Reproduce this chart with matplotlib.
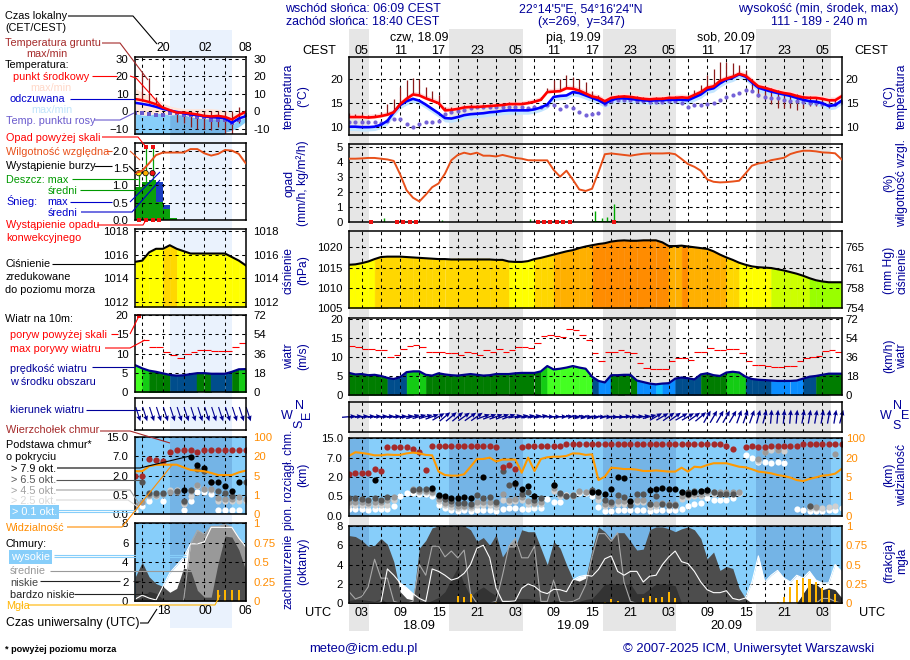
import numpy as np
import matplotlib
matplotlib.use("Agg")
import matplotlib.pyplot as plt

N = float('nan')
plt.rcParams['font.family'] = ['Liberation Sans', 'DejaVu Sans']

# ---------- main panel data: hourly from 01 UTC 18.09 (78 values) ----------
temp_mid = [12.0,12.0,12.0,11.9,12.0,12.2,12.5,13.0,14.7,15.8,
            16.7,16.5,15.9,15.4,14.9,13.4,13.5,13.7,14.0,14.1,
            14.1,14.2,14.3,14.4,14.5,14.7,14.7,14.7,14.9,15.2,
            15.6,17.2,17.3,17.4,18.0,17.9,17.5,16.9,16.3,16.0,
            15.3,16.0,16.2,16.3,16.2,16.0,15.8,15.7,15.8,15.8,
            16.0,16.0,16.1,16.0,16.6,17.2,18.1,18.4,19.5,20.0,
            20.4,21.0,20.6,19.5,18.4,18.1,17.7,17.3,17.0,16.8,
            16.4,16.1,16.0,16.0,15.8,15.5,15.5,16.3]
temp_feel = [10.0,10.0,9.9,9.9,10.0,10.4,11.2,13.0,14.5,15.3,
             15.8,15.4,14.6,13.7,12.8,11.8,11.7,12.0,12.4,12.6,
             12.7,12.8,13.0,13.1,13.3,13.4,13.4,13.4,13.4,13.6,
             14.0,14.6,16.2,16.4,16.5,17.2,17.0,16.5,16.0,15.5,
             14.8,15.5,15.9,15.9,15.8,15.6,15.5,15.4,15.5,15.5,
             15.6,15.6,15.6,15.5,16.1,16.7,17.7,18.0,19.0,19.8,
             20.2,20.9,20.4,19.2,18.1,17.7,17.3,17.0,16.7,16.4,
             16.0,15.6,15.3,15.2,14.9,14.3,14.5,15.4]
dew_point = [11.0,11.0,11.0,10.9,10.9,10.8,11.1,11.5,11.5,10.6,
             10.0,10.5,10.9,10.9,11.1,12.7,13.0,13.2,13.5,13.8,
             14.0,14.0,14.0,14.0,14.2,14.2,14.1,14.0,13.8,14.0,
             14.2,14.5,14.6,13.6,14.4,13.9,13.1,12.5,12.6,12.9,
             14.8,15.3,15.5,15.6,15.5,15.4,15.3,15.2,15.1,15.2,
             15.3,15.3,14.9,14.0,14.5,14.6,14.7,14.9,15.6,16.1,
             16.5,17.0,17.6,17.5,16.5,16.2,16.0,15.9,15.6,15.4,
             15.3,15.2,15.0,14.9,14.7,14.5,14.8,15.2]
ground_max = [12.8,12.7,12.6,12.5,12.7,13.0,14.7,15.8,18.2,19.8,
              20.2,20.0,18.2,17.4,16.5,14.0,14.0,14.0,14.5,14.7,
              14.6,14.7,14.8,14.9,15.0,15.1,15.1,15.2,15.3,15.6,
              16.2,18.0,19.7,19.9,20.7,20.3,20.0,19.3,17.5,16.5,
              15.5,16.2,16.5,16.6,16.4,16.3,16.1,16.0,16.1,16.1,
              16.3,16.3,16.4,16.3,17.6,18.7,20.7,22.1,23.4,23.4,
              23.2,22.8,21.7,19.8,18.6,18.3,18.0,17.6,17.3,17.0,
              16.7,16.4,16.3,16.2,16.0,15.8,15.7,16.5]
ground_min_late = [17.4,16.2,15.8,14.7,13.8,13.8,13.8,13.4,13.8,14.4,14.4,14.4,13.8,14.3,15.0]
humidity = [92,92,92.2,92.5,92.5,92,91.5,90.5,81.5,71,
            66,63.5,68,73,75.5,82,91,94.5,96,95,
            96,94,94,93.5,94.5,93.5,92.5,92,91,90.9,
            90.9,90.9,84.5,80,84,78,71.5,70.5,72,83,
            95,95.5,95,94.5,94,94.7,95.3,95.5,95.5,95.5,
            95.7,95,91.8,88.4,86.6,84,78.2,76.6,76.2,76.4,
            76.8,77.3,82.2,87.3,88.8,89.5,91,91.8,92.6,95.1,
            96.4,97.3,97.3,96.9,96.2,96,95.6,91.6]
precip_hours = [5.4,14.5,28.3,38.4,39.5,40.4,41.4]
precip_vals = [0.22,0.1,0.2,0.7,0.25,0.3,1.2]
convective_hours = [3.5,7.5,8.5,9.5,10.5,29.5,30.5,31.5,32.5,33.5,34.5,41.5]
pressure = [1015.7,1015.8,1016.1,1016.5,1017.1,1017.6,1017.7,1017.7,1017.7,1017.6,
            1017.5,1017.4,1017.3,1017.2,1017.1,1017.1,1017.0,1017.0,1017.0,1017.0,
            1017.0,1017.0,1017.0,1016.9,1016.9,1016.5,1016.4,1016.4,1016.6,1017.1,
            1017.4,1017.8,1018.2,1018.6,1019.0,1019.3,1019.8,1020.2,1020.5,1020.8,
            1021.0,1021.4,1021.6,1021.7,1021.6,1021.6,1021.7,1021.7,1021.7,1021.2,
            1020.3,1020.3,1020.4,1020.2,1020.0,1019.8,1019.6,1019.0,1018.2,1017.5,
            1016.9,1016.2,1015.7,1015.3,1015.1,1015.0,1014.9,1014.6,1014.3,1013.9,
            1013.5,1013.0,1012.4,1011.9,1011.6,1011.4,1011.4,1011.4]
wind_mean = [5.8,5.4,5.5,5.2,5.3,5.0,4.5,4.2,4.7,6.0,
             6.2,6.2,5.3,5.1,5.7,5.4,5.2,5.1,5.3,5.5,
             5.3,5.1,5.2,5.5,5.5,5.5,5.7,5.8,5.8,5.8,
             6.2,7.6,6.7,6.9,7.2,7.6,7.2,6.9,4.8,3.7,
             3.3,5.2,5.2,5.3,5.3,3.8,3.4,3.0,2.8,3.0,
             3.1,4.3,4.6,4.4,4.1,5.4,5.7,5.2,5.0,5.9,
             6.1,5.9,4.8,4.2,4.0,3.9,3.8,3.7,3.7,3.7,
             3.8,4.3,4.8,5.0,5.3,5.6,5.6,5.6]
wind_gust = [12.9,12.6,12.0,12.2,11.7,11.7,10.1,10.4,12.2,12.8,
             13.2,12.7,11.4,11.4,11.4,11.0,11.0,10.6,11.4,11.0,
             10.6,11.9,11.4,12.0,11.4,11.7,12.5,12.7,12.3,13.6,
             15.6,15.8,15.6,15.3,17.4,17.2,15.8,14.5,11.0,9.0,
             11.2,11.4,11.7,11.4,11.1,8.5,7.2,6.9,6.7,6.7,
             9.0,9.8,9.6,9.3,11.2,11.4,12.4,11.7,11.7,12.0,
             12.0,10.9,8.9,8.0,8.0,7.6,7.4,7.4,7.7,7.7,
             8.9,9.8,10.1,10.3,11.5,11.7,11.3]
wind_dir = [5,5,5,5,5,5,5,5,5,8,
            15,15,15,20,30,40,40,40,35,35,
            35,20,20,20,20,20,10,10,10,10,
            10,0,0,0,0,-10,-10,-10,-8,-5,
            -5,-5,-3,5,5,5,8,15,30,30,
            35,35,30,30,35,40,60,60,60,60,
            60,70,70,70,75,75,85,85,85,85,
            85,80,80,80,80,80,80,75]
# cloud-base dots, read as position on the 0/0.5/2/7/15 km ladder
cb_white = [.33,.33,.33,.31,.33,.33,.33,.5,1.03,1.19,
            1.16,1.1,1.1,1.03,.55,.38,.31,.24,.28,.24,
            .29,.29,.29,.24,.33,.38,.38,.34,.34,.38,
            .38,.86,.69,.69,1.07,1.07,1.16,1.16,1.03,.47,
            .24,.24,.29,.29,.31,.29,.28,.24,.28,.28,
            .28,.28,.34,.5,.59,.67,.9,.81,.83,.83,
            .9,1.16,3.14,3.0,2.8,2.76,2.72,2.76,2.72,N,
            .34,.29,.24,.24,.24,.29,.29,.41]
cb_light = [.55,.55,.55,.53,.55,.55,.55,.81,N,N,
            1.33,1.24,1.24,1.16,.76,.55,.47,.41,.47,.41,
            .55,.55,.55,.47,.81,.72,.76,.81,.59,.59,
            .59,N,1.28,1.03,1.05,1.05,1.24,1.24,1.24,.81,
            .5,.55,.62,.62,.64,.69,.72,.47,.5,.59,
            .52,.52,.86,.98,1.03,1.03,1.16,1.1,1.1,1.1,
            1.16,1.19,N,N,2.83,3.28,3.4,3.4,3.35,N,
            N,N,.38,.38,.41,.47,.5,N]
cb_gray = [.72,.72,.69,.66,.72,.69,.8,.95,N,N,
           1.36,1.3,1.3,1.25,.85,.65,.58,.5,.52,.48,
           .72,.7,.7,.58,1.1,.8,.85,.95,.75,.68,
           .7,N,1.45,1.1,1.0,1.0,1.3,1.25,1.3,1.0,
           .6,.62,.75,.75,.75,.8,.8,.6,.62,.65,
           .6,.6,1.0,1.05,1.1,1.1,1.25,1.2,1.2,1.2,
           1.2,1.22,N,N,2.95,3.3,N,3.4,N,N,
           N,N,.5,.45,N,N,3.17,N]
cb_dark = [.93,.93,.86,.79,.93,.81,.98,N,N,N,
           1.33,1.38,1.38,1.36,1.02,.86,.76,.64,.64,.59,
           1.07,.93,.95,.72,2.31,1.59,1.62,1.12,1.24,.81,
           .93,N,1.6,1.16,1.03,1.07,N,N,1.33,1.24,
           .81,.69,1.07,.97,.55,1.1,1.1,.59,1.02,.59,
           .55,.55,1.24,1.2,1.3,1.3,1.33,1.2,1.1,1.1,
           1.1,N,N,N,N,N,N,N,N,N,
           N,N,.5,N,N,N,N,N]
cb_black = [N,N,N,N,1.84,N,N,N,N,N,
            N,N,N,1.45,1.07,1.03,.93,.9,.98,.9,
            N,1.98,N,N,N,N,1.71,1.36,1.53,1.02,
            N,N,1.59,N,N,N,N,N,1.24,1.24,
            1.1,1.36,1.98,1.93,.76,N,N,1.33,1.38,1.41,
            1.36,1.38,1.2,1.12,1.24,1.29,1.33,N,N,N,
            N,N,N,N,N,N,N,N,N,N,
            N,N,N,N,N,N,N,N]
cb_top = [2.14,2.23,2.19,2.19,2.4,2.31,3.53,3.53,3.53,3.53,
          3.43,3.31,2.36,3.62,3.62,3.62,3.62,3.62,3.62,3.62,
          3.62,3.62,3.62,3.53,2.5,2.6,2.41,3.53,3.62,3.62,
          3.62,3.62,3.62,3.62,3.7,3.7,3.7,3.7,3.7,3.7,
          3.7,3.7,3.7,3.7,3.7,3.7,3.7,3.7,3.7,3.7,
          3.7,3.7,3.7,3.7,3.7,3.7,3.7,3.7,3.7,3.62,
          3.43,N,3.53,3.62,3.53,3.53,3.62,3.62,3.62,3.62,
          3.62,3.7,3.7,3.7,3.7,3.7,3.7,3.7]
visibility = [3.09,3.28,3.24,3.19,3.12,3.12,3.16,3.14,3.14,3.22,
              3.26,3.22,3.14,3.12,2.28,2.1,2.07,2.07,2.14,2.53,
              2.93,2.93,3.0,2.8,2.9,2.9,2.9,2.22,3.0,2.31,
              2.93,3.02,3.05,3.05,3.09,3.22,3.21,3.14,3.17,1.84,
              2.02,2.48,2.45,2.41,2.41,2.38,2.31,2.31,2.34,2.31,
              2.28,2.28,2.48,2.28,2.53,2.5,2.62,2.71,2.71,2.71,
              2.62,2.53,2.5,2.4,2.28,2.24,2.19,2.1,2.05,1.97,
              1.84,1.79,1.9,1.98,2.07,2.1,2.17,2.41]
cloud_high = [.05,.05,.05,.05,.05,.1,3.55,2.9,2.1,1.6,
              1.0,.5,.2,3.55,3.3,2.9,2.4,2.6,3.1,4.0,
              5.7,6.0,4.7,1.55,.2,.2,.25,1.55,2.0,1.75,
              1.2,1.0,1.45,1.4,1.2,2.4,2.76,2.9,2.8,3.5,
              4.6,4.9,3.3,2.9,3.3,3.3,2.2,2.8,2.9,4.0,
              4.8,5.4,4.3,4.1,3.3,2.2,1.4,1.1,1.1,1.3,
              .5,.35,.55,2.2,4.9,2.2,2.9,3.4,2.6,2.2,
              2.9,2.6,3.3,2.4,2.1,2.1,4.0,3.3]
cloud_mid = [1.2,.45,.7,1.7,4.55,2.6,2.6,.2,0,0,
             .2,4.0,2.9,5.9,5.9,4.8,5.4,4.7,5.5,1.0,
             0,0,0,.2,2.9,5.9,6.7,4.7,4.7,5.9,
             .2,.2,2.4,.2,.1,.2,.5,1.9,4.8,7.2,
             7.2,6.4,7.3,2.2,.2,0,0,0,0,0,
             0,0,0,0,0,0,0,0,0,0,
             0,0,0,0,0,0,0,0,0,0,
             0,0,0,0,.5,.5,.2,0]
cloud_low = [7.0,6.9,6.5,5.9,6.0,6.7,6.1,4.3,1.2,.5,
             .35,5.7,6.5,7.8,8.0,8.0,8.0,8.0,8.0,7.6,
             6.4,6.8,6.0,7.1,4.8,5.8,5.8,7.6,7.4,7.4,
             5.7,4.0,6.4,5.7,4.0,2.5,2.3,2.6,5.6,7.9,
             7.4,6.6,7.3,7.3,6.4,5.5,5.6,7.6,7.9,7.9,
             7.7,7.4,7.7,7.9,7.6,6.7,4.6,5.3,3.4,3.8,
             3.6,1.55,.5,0,0,0,0,0,0,0,
             0,1.0,1.9,1.9,.9,1.4,1.2,.5]
cloud_vlow = [.3,.4,.4,.3,.2,.5,0,0,0,0,
              0,0,0,.3,.6,1.2,2.5,3.7,2.0,.7,
              1.3,1.7,1.2,.8,0,.3,.5,.5,.5,.4,
              .2,0,.3,.3,.2,.1,.2,.4,.5,1.2,
              2.0,2.0,2.0,2.0,2.0,1.0,1.0,1.5,2.0,2.0,
              2.0,1.8,0,0,0,0,0,0,0,0,
              0,0,0,0,0,0,0,0,0,0,
              0,1.0,2.0,2.0,1.4,1.6,1.4,.6]
fog_hours = [17,18,19,23,40,41,42,46,47,48,49,50,51,67,68,69,70,71,72,73,74,75,76]
fog_frac = [.095,.078,.116,.02,.02,.056,.03,.065,.09,.065,.075,.14,.07,.02,.085,.215,.3,.325,.31,.27,.195,.17,.115]
night_start = [-1,15.67,39.67,63.67]
night_end = [3.15,27.15,51.2,75.3]
local_ticks = ['05','11','17','23','05','11','17','23','05','11','17','23','05']
utc_ticks = ['03','09','15','21','03','09','15','21','03','09','15','21','03']

# ---------- left (current) panel: hourly from 14 UTC 17.09 (17 values) ----------
tl_mid = [7,6.3,5.3,4,2.1,.6,-.8,-.8,-1.3,-1.9,-2.7,-3,-2.7,-3.3,-4.8,-2.3,-.4]
tl_feel = [4.8,4.2,3.5,2.5,1.3,.4,-.4,-1.2,-1.9,-2.3,-3,-3.5,-3.7,-4.2,-6.7,-4.2,-2.9]
tl_pale_top = [13,11,9,7.5,4.5,3,2.1,1.5,1.5,1.5,1.5,1.5,1.1,.6,-1.3,-.4,.6]
tl_fill_top = [-1.3,-2.3,-2.3,-1.3,-1.3,-2.3,-2,-2.3,-3.3,-4,-4.5,-4.5,-4.5,-5,-7.5,-5,-3.5]
tl_fill_bot = [-20,-20,-20,-20,-20,-20,-20,-20,-20,-20,-20,-20,-20,-12,-11,-9,-6]
tl_dew = [-1.3,-1.3,-1.9,-2.3,-2.3,-1.3,-1.3,-2.3,-2.3,-3.6,-3.6,-4.8,-5.2,-5.2,-6.7,-4.8,-2.3]
tl_gmax = [7,21.7,19,8,2.5,.6,0,0,0,0,0,0,0,0,0,2.5,1]
tl_gmin = [7,6,4.5,4,2,0,-6,-7,-9,-10,-10,-11,-9,-13,-13,-7,-.4]
rl_rh = [81,82.7,87.6,93,94.7,94.7,94.7,94.7,97,97,94.2,92.7,93.8,96.4,96,93.8,87.6]
rl_rain = [.96,1.1,1.15,.53,.33,.05]
rl_snow = [0,0,0,1.1,.43,0]
rl_conv = [.5,1.5,2.5,3.5]
rl_storm_t = [.5,1.5,2.5]
rl_storm_c = ['#ffee00','#ffb000','#ee1111']
rl_over = [1.5,2.5]
pl_press = [1015.4,1015.5,1016.2,1016.5,1016.5,1016.8,1016.5,1016.3,1016.1,1016.1,1016.1,1016.1,1016.1,1016.1,1015.8,1015.5,1015.1]
wl_mean = [7,6.2,5.6,5.3,4.9,4.5,4.3,4.4,4.7,4.95,4.95,4.8,4.8,4.8,5.3,5.95,6.0]
wl_gust = [13.5,11.8,11.6,10.5,9.7,8.8,9.8,10.5,11,11,10.7,10.7,10.7,11.6,12.7,13]
wl_gust_t = [1,2,3,4,5,6,7,8,9,10,11,12,13,14,15,15.99]
cl_top = [2,2,2.87,2.83,2.78,3.22,3.34,3.34,3.34,3.22,3.34,3.34,3.34,3.34,3.34,3.34,3.34]
cl_black = [N,N,N,N,N,N,N,1.25,2.99,2.56,2.38,1.65,1.69,1.48,1.22,1.69,N]
cl_dark = [N,1.69,1.1,1.1,1.1,N,1.22,.7,1.25,2.35,2.26,1.65,1.22,1.1,.96,N,1.65]
cl_gray = [.45,.65,1.0,1.0,1.05,1.15,1.15,.6,1.2,1.5,1.3,1.3,.85,.8,.8,.9,.8]
cl_light = [.38,.6,.95,.95,N,1.25,1.25,.5,.95,1.47,1.3,1.25,.7,.7,.7,.7,.7]
cl_white = [.17,.43,.7,N,.7,N,N,.21,.7,1.13,1.13,1.04,.21,.21,.21,.21,N]
vl_vis = [2.23,2.23,2.49,2.56,2.57,2.57,2.57,2.43,2.3,2.26,2.23,2.14,2.03,2.03,2.03,2.17,2.26]
nl_high = [.2,.6,.3,.1,1.5,2.9,3.7,4.5,5.9,5.9,6.1,7.6,7.6,7.6,7.6,6.5,5.6]
nl_mid = [0,0,0,0,0,0,0,0,5.9,7.3,6.9,7.7,7.7,7.9,7.6,6.5,5.6]
nl_low = [2.5,4,2.5,1.8,1.5,.9,1.3,3.4,3.2,1.1,.4,.4,3.9,6.7,6.6,5.3,3.2]
nl_vlow = [.2,.3,1,.8,.2,0,0,0,0,0,0,0,0,0,0,0,0]
fl_hours = [12,13,14,15]
fl_frac = [.14,.14,.14,.14]

NAVY = '#000099'
SKY = '#87cefa'
SKYD = '#74b4e6'
ORG = '#ff8c00'
RHC = '#e8501a'
FS = 8.6
TK = 8.2
LB = 7.8

fig = plt.figure(figsize=(9.1, 6.6), dpi=100, facecolor='white')

def box(x0, y0, x1, y1):
    a = fig.add_axes([x0/910, 1-y1/660, (x1-x0)/910, (y1-y0)/660])
    a.set_facecolor('none')
    for s in a.spines.values():
        s.set_linewidth(1.1)
        s.set_zorder(20)
    return a

bg = fig.add_axes([0, 0, 1, 1], zorder=-5)
bg.set_xlim(0, 910); bg.set_ylim(660, 0); bg.axis('off')
for s0, s1 in zip(night_start, night_end):
    x0 = max(349, 349+6.396*s0); x1 = 349+6.396*s1
    bg.fill_between([x0, x1], 29, 631, color='#e6e6e6', lw=0)
bg.fill_between([170, 231.7], 30, 628, color='#eaf2fd', lw=0)

def setup(a, xlim, gridx, yl, yt, ylab=None, rlab=None, rcolor='k', lpad=4.5, rpad=3):
    a.set_xlim(*xlim); a.set_ylim(*yl)
    a.set_xticks(gridx); a.set_xticklabels([])
    a.set_yticks(yt)
    if ylab is not None:
        a.set_yticklabels(ylab)
    a.tick_params(length=0, labelsize=TK, pad=lpad)
    a.set_axisbelow(False)
    a.grid(True, color='k', lw=.75, ls=(0, (3, 3.4)), zorder=6)
    r = a.twinx()
    r.set_ylim(*yl); r.set_yticks(yt)
    r.set_yticklabels(rlab if rlab is not None else (ylab if ylab is not None else yt), color=rcolor)
    r.tick_params(length=0, labelsize=TK, pad=rpad)
    for s in r.spines.values():
        s.set_visible(False)
    return r

def press_col(p):
    if p < 1013: return '#99ff00'
    if p < 1015: return '#ccff00'
    if p < 1016.7: return '#ffff00'
    if p < 1018: return '#ffd700'
    if p < 1020.35: return '#ffb000'
    return '#ff8c00'

def wind_col(w):
    if w < 3: return '#10c0ff'
    if w < 3.9: return '#0a8cff'
    if w < 4.9: return '#004d8c'
    if w < 5.9: return '#007d00'
    if w < 6.5: return '#14cc14'
    return '#44ff22'

def draw_base(a, t, wh, li, gr, da, bl, top, vis, s=20):
    a.set_facecolor(SKY)
    for vals, c in ((wh, 'white'), (li, '#cfcfcf'), (gr, '#9a9a9a'), (da, '#555555'), (bl, 'black'), (top, '#a52a2a')):
        a.scatter(t, vals, s=s, color=c, lw=0, zorder=3)
    a.plot(t, vis, color='#ff9900', lw=1.5, zorder=5)

def draw_clouds(a, t, hi, mi, lo, vl, fh, ff, barw):
    a.set_facecolor(SKY)
    a.fill_between(t, 0, hi, color='white', lw=0, zorder=2)
    a.fill_between(t, 0, mi, color='#999999', lw=0, zorder=2.1)
    a.fill_between(t, 0, lo, color='#4d4d4d', lw=0, zorder=2.2)
    a.fill_between(t, 0, vl, color='#333333', lw=0, zorder=2.3)
    a.plot(t, mi, color='#a8a8a8', lw=.8, zorder=3)
    a.plot(t, hi, color='white', lw=.8, zorder=3.1)
    a.bar(fh, np.array(ff)*8, width=barw, color='#ffb400', zorder=4)

t = np.arange(78.0)
xl = (0, 77)
gx = np.arange(2, 78, 3)
mid = np.array(temp_mid); feel = np.array(temp_feel)

# --- temperature
a = box(349, 57, 841.5, 135)
setup(a, xl, gx, (8.27, 24.5), [10, 15, 20])
a.fill_between(t, mid-.25, mid+.7, color='#ffdcdc', lw=0, zorder=1)
a.fill_between(t, feel-.8, feel+.25, color='#c4e6ff', lw=0, zorder=1)
a.vlines(t, mid, ground_max, color='#8b1a1a', lw=.9, zorder=3)
gmin = mid.copy(); gmin[63:] = ground_min_late
a.vlines(t, mid, gmin, color='#8b1a1a', lw=.9, zorder=3)
a.scatter(t, dew_point, s=9, color='#7563d8', lw=0, zorder=7)
a.plot(t, feel, color='#0000ff', lw=1.9, zorder=8)
a.plot(t, mid, color='#ff0000', lw=1.9, zorder=8)

# --- precipitation / humidity
a = box(349, 144, 841.5, 221.7)
r = setup(a, xl, gx, (0, 5.18), [0, 1, 2, 3, 4, 5], rlab=['50', '60', '70', '80', '90', '100'], rcolor=RHC)
a.vlines(precip_hours, 0, precip_vals, color='#00aa00', lw=1, zorder=3)
a.fill_between([38, 42], 0, .06, color='#00aa00', lw=0, zorder=3)
a.scatter(convective_hours, np.zeros(len(convective_hours)), marker='s', s=7, color='#ee1111', lw=0, zorder=25, clip_on=False)
r.set_ylim(50, 50+5.18*10); r.set_yticks([50, 60, 70, 80, 90, 100])
r.plot(t, humidity, color=RHC, lw=1.4, zorder=8)

# --- pressure
a = box(349, 231, 841.5, 308.3)
yp = (1005, 1024)
setup(a, xl, gx, yp, [1005, 1010, 1015, 1020], rlab=['754', '758', '761', '765'])
for i in range(77):
    c = press_col(pressure[i])
    a.fill_between(t[i:i+2], 1005, pressure[i:i+2], facecolor=c, edgecolor=c, lw=.3, zorder=1)
a.plot(t, pressure, color='k', lw=1.5, zorder=7)

# --- wind
a = box(349, 317.7, 841.5, 395)
setup(a, xl, gx, (0, 20.3), [0, 5, 10, 15, 20], rlab=['0', '18', '36', '54', '72'])
for i in range(77):
    c = wind_col(wind_mean[i])
    a.fill_between(t[i:i+2], 0, wind_mean[i:i+2], facecolor=c, edgecolor=c, lw=.3, zorder=1)
a.plot(t, wind_mean, color='#00008b', lw=1.6, zorder=7)
a.hlines(wind_gust, t[:len(wind_gust)], t[:len(wind_gust)]+1, color='#ff0000', lw=.8, zorder=7)

# --- wind direction
a = box(349, 401.7, 841.5, 431.7)
r = setup(a, xl, gx, (-1, 1), [])
a.grid(False, axis='y')
ang = np.radians(wind_dir)
a.quiver(t, np.zeros(78), 14*np.cos(ang), 14*np.sin(ang), units='dots', scale=1, scale_units='dots',
         angles='uv', width=1.3, headwidth=3.8, headlength=4.2, headaxislength=3.8, pivot='mid', color='#000090', zorder=8, clip_on=False)

# --- cloud base
ly = [0, 1, 2, 3, 4]
a = box(349, 437.7, 841.5, 515.7)
setup(a, xl, gx, (0, 4.03), ly, ylab=['0.0', '0.5', '2.0', '7.0', '15.0'], rlab=['0', '1', '5', '20', '100'], rcolor=ORG)
draw_base(a, t, cb_white, cb_light, cb_gray, cb_dark, cb_black, cb_top, visibility)
for s0, s1 in zip(night_start, night_end):
    a.axvspan(s0, s1, color=SKYD, lw=0, zorder=1)

# --- cloud cover
a = box(349, 525.7, 841.5, 603.3)
setup(a, xl, gx, (0, 8.02), [0, 2, 4, 6, 8], rlab=['0', '0.25', '0.5', '0.75', '1'], rcolor=ORG)
draw_clouds(a, t, cloud_high, cloud_mid, cloud_low, cloud_vlow, fog_hours, fog_frac, .32)
for s0, s1 in zip(night_start, night_end):
    a.axvspan(s0, s1, color=SKYD, lw=0, zorder=1)

# ---------- left panels ----------
tl = np.arange(17.0)
xll = (0, 16)
gxl = [1, 4, 7, 10, 13]
lx0, lx1 = 135.3, 245.7
LP = dict(lpad=5, rpad=5.5)

a = box(lx0, 57.3, lx1, 134.3)
setup(a, xll, gxl, (-13.3, 31), [-10, 0, 10, 20, 30], **LP)
a.fill_between(tl, tl_fill_top, tl_pale_top, color='#ffe6da', lw=0, zorder=1)
a.fill_between(tl, tl_fill_bot, tl_fill_top, color=SKY, lw=0, zorder=1.1)
m = (tl >= 5) & (tl <= 14)
a.fill_between(tl[m], np.array(tl_fill_bot)[m], np.array(tl_fill_top)[m], color=SKYD, lw=0, zorder=1.2)
a.vlines(tl, tl_gmin, tl_gmax, color='#8b1a1a', lw=.9, zorder=3)
a.scatter(tl, tl_dew, s=9, marker='s', color='#6a5acd', lw=0, zorder=7)
a.plot(tl, tl_feel, color='#0000ff', lw=1.8, zorder=8)
a.plot(tl, tl_mid, color='#ff0000', lw=1.8, zorder=8)

a = box(lx0, 143.3, lx1, 220)
r = setup(a, xll, gxl, (0, 2.21), [0, .5, 1, 1.5, 2], ylab=['0.0', '0.5', '1.0', '1.5', '2.0'], rlab=['50', '61', '73', '84', '96'], rcolor=RHC, **LP)
bt = np.arange(6.0)+.5
a.bar(bt, rl_snow, width=1, color='#1c3fc0', lw=0, zorder=1)
a.bar(bt, rl_rain, width=1, color='#0aa00a', lw=0, zorder=1.1)
a.vlines(rl_over, 1, 2.09, color='#0aa00a', lw=.9, zorder=3)
a.vlines([.5], .9, 1.35, color='#0aa00a', lw=.9, zorder=3)
a.scatter(rl_over, [2.09, 2.09], marker='s', s=7, color='#ee1111', lw=0, zorder=9)
a.scatter(rl_storm_t, [1.35]*3, s=15, c=rl_storm_c, edgecolors='k', lw=.5, zorder=9)
a.scatter(rl_conv, [0]*4, marker='s', s=7, color='#ee1111', lw=0, zorder=25, clip_on=False)
r.set_ylim(50, 50+2.21*23); r.set_yticks([50, 61.5, 73, 84.5, 96])
r.plot(tl, rl_rh, color=RHC, lw=1.4, zorder=8)

a = box(lx0, 229.3, lx1, 306.7)
setup(a, xll, gxl, (1011.6, 1018.15), [1012, 1014, 1016, 1018], **LP)
for i in range(16):
    c = press_col(pl_press[i]) if i != 4 else '#ffd700'
    a.fill_between(tl[i:i+2], 1011.6, pl_press[i:i+2], facecolor=c, edgecolor=c, lw=.3, zorder=1)
a.plot(tl, pl_press, color='k', lw=1.5, zorder=7)

a = box(lx0, 315, lx1, 392.3)
setup(a, xll, gxl, (0, 20), [0, 5, 10, 15, 20], rlab=['0', '18', '36', '54', '72'], **LP)
for i in range(16):
    c = wind_col(wl_mean[i])
    a.fill_between(tl[i:i+2], 0, wl_mean[i:i+2], facecolor=c, edgecolor=c, lw=.3, zorder=1)
a.plot(tl, wl_mean, color='#00008b', lw=1.6, zorder=7)
a.hlines(wl_gust, wl_gust_t, np.array(wl_gust_t)+1, color='#ff0000', lw=.8, zorder=7)
a.scatter([.5], [19.8], marker='s', s=7, color='#ee1111', lw=0, zorder=9, clip_on=False)

a = box(lx0, 398.3, lx1, 430)
setup(a, xll, gxl, (-1, 1), [], **LP)
a.grid(False, axis='y')
al = np.radians(np.full(17, -72.0))
a.quiver(tl+.4, np.zeros(17), 15*np.cos(al), 15*np.sin(al), units='dots', scale=1, scale_units='dots',
         angles='uv', width=1.1, headwidth=4.5, headlength=5, headaxislength=4.5, pivot='mid', color='#000090', zorder=8, clip_on=False)

a = box(lx0, 436.7, lx1, 514)
setup(a, xll, gxl, (0, 4.03), ly, ylab=['0.0', '0.5', '2.0', '7.0', '15.0'], rlab=['0', '1', '5', '20', '100'], rcolor=ORG, **LP)
draw_base(a, tl, cl_white, cl_light, cl_gray, cl_dark, cl_black, cl_top, vl_vis)
a.axvspan(5, 14, color=SKYD, lw=0, zorder=1)

a = box(lx0, 523.3, lx1, 601)
setup(a, xll, gxl, (0, 8.02), [0, 2, 4, 6, 8], rlab=['0', '0.25', '0.5', '0.75', '1'], rcolor=ORG, **LP)
draw_clouds(a, tl, nl_high, nl_mid, nl_low, nl_vlow, fl_hours, fl_frac, .3)
a.axvspan(5, 14, color=SKYD, lw=0, zorder=1)

# ---------- overlay: leader lines and text ----------
ov = fig.add_axes([0, 0, 1, 1], zorder=30)
ov.set_xlim(0, 910); ov.set_ylim(660, 0); ov.axis('off'); ov.patch.set_alpha(0)

def T(x, y, s, c='k', ha='center', rot=0, size=FS, **kw):
    if rot == 0:
        ov.text(x, y+4, s, color=c, ha=ha, va='baseline', fontsize=size, **kw)
    else:
        ov.text(x, y, s, color=c, ha=ha, va='center', rotation=rot, fontsize=size, **kw)

def TL(x, y, s, c='k', ha='left', **kw):
    T(x, y, s, c, ha=ha, size=LB, **kw)

def L(c, pts, lw=.8):
    ov.plot([p[0] for p in pts], [p[1] for p in pts], color=c, lw=lw, solid_capstyle='butt')

# header
HS = 8.95
T(363, 8, 'wschód słońca: 06:09 CEST', NAVY, size=HS)
T(363, 21, 'zachód słońca: 18:40 CEST', NAVY, size=HS)
T(581, 8, '22°14\'5"E, 54°16\'24"N', NAVY, size=HS)
T(581, 21, '(x=269,  y=347)', NAVY, size=HS)
T(818, 8, 'wysokość (min, środek, max)', NAVY, size=HS)
T(819, 21, '111 - 189 - 240 m', NAVY, size=HS)
for x, s in zip((419, 573, 726), ('czw, 18.09', 'pią, 19.09', 'sob, 20.09')):
    T(x, 37, s, size=HS)
for x, s in zip((419, 573, 726), ('18.09', '19.09', '20.09')):
    T(x, 625, s, size=9.2)
tk = 349+6.396*gx[0::2]
for x, s in zip(tk, local_ticks):
    T(x, 50, s, size=9)
for x, s in zip(tk, utc_ticks):
    T(x, 612, s, size=9)
T(319, 50, 'CEST', size=9.2); T(871, 50, 'CEST', size=9.2)
T(318, 612, 'UTC', size=9.2); T(872, 612, 'UTC', size=9.2)
T(363, 648, 'meteo@icm.edu.pl', NAVY, size=9.4)
T(749, 648, '© 2007-2025 ICM, Uniwersytet Warszawski', NAVY, size=9.4)

# rotated axis titles
for y, ys, l1, l2, r1, r2 in ((96, 96, 'temperatura', '(°C)', '(°C)', 'temperatura'),
                              (183, 183, 'opad', '(mm/h, kg/m²/h)', '(%)', 'wilgotność wzgl.'),
                              (270, 270, 'ciśnienie', '(hPa)', '(mm Hg)', 'ciśnienie'),
                              (356, 356, 'wiatr', '(m/s)', '(km/h)', 'wiatr'),
                              (480, 475, 'pion. rozciągł. chm.', '(km)', '(km)', 'widzialność'),
                              (571, 561, 'zachmurzenie', '(oktanty)', '(frakcja)', 'mgła')):
    T(289, y, l1, NAVY, rot=90, size=8.4 if len(l1) > 15 else 8.7); T(303, ys, l2, NAVY, rot=90, size=8.7)
    T(889, ys, r1, NAVY, rot=90, size=8.7); T(902, ys, r2, NAVY, rot=90, size=8.7)
for x, y, s, rr in ((287, 415, 'W', 0), (300, 405, 'N', 0), (299, 424, 'S', 90), (307, 415, 'E', 90),
                    (886, 415, 'W', 0), (898, 405, 'N', 0), (897, 425, 'S', 0), (905, 415, 'E', 0)):
    T(x, y, s, NAVY, rot=rr, size=9)

# left column ticks
for x, a1, a2 in zip((163.5, 205, 245), ('20', '02', '08'), ('18', '00', '06')):
    T(x, 47, a1, size=8.8); T(x, 610, a2, size=8.8)

# left column labels
BR = '#a52a2a'; RD = '#ff0000'; BL = '#0000cc'; SL = '#6a5acd'; GR = '#009900'
TL(5, 15, 'Czas lokalny'); TL(5, 27, '(CET/CEST)')
TL(5, 42, 'Temperatura gruntu', BR); TL(47, 53, 'max/min', BR, ha='center')
TL(5, 64, 'Temperatura:')
TL(13, 76, 'punkt środkowy', RD); TL(51, 87, 'max/min', '#ffd8c8', ha='center')
TL(10, 98, 'odczuwana', BL); TL(52, 109, 'max/min', '#bfe4fb', ha='center')
TL(6, 120, 'Temp. punktu rosy', SL)
TL(6, 137, 'Opad powyżej skali', RD)
TL(6, 151, 'Wilgotność względna', RHC)
TL(6, 165, 'Wystąpienie burzy')
TL(6, 179, 'Deszcz: max', GR); TL(63, 190, 'średni', GR, ha='center')
TL(6, 201, 'Śnieg:', BL); TL(58, 201, 'max', BL, ha='center'); TL(63, 212, 'średni', BL, ha='center')
TL(6, 224, 'Wystąpienie opadu', RD); TL(6, 237, 'konwekcyjnego', RD)
TL(5, 263, 'Ciśnienie'); TL(5, 276, 'zredukowane'); TL(5, 289, 'do poziomu morza')
TL(5, 318, 'Wiatr na 10m:')
TL(10, 334, 'poryw powyżej skali', RD); TL(10, 348, 'max porywy wiatru', RD)
TL(10, 368, 'prędkość wiatru', NAVY); TL(10, 381, 'w środku obszaru', NAVY)
TL(10, 409, 'kierunek wiatru', NAVY)
TL(6, 429, 'Wierzchołek chmur', BR)
TL(6, 444, 'Podstawa chmur*'); TL(6, 456, 'o pokryciu')
TL(11, 468, '> 7.9 okt.'); TL(11, 479, '> 6.5 okt.', '#555555')
TL(11, 490, '> 4.5 okt.', '#a0a0a0'); TL(11, 500, '> 2.5 okt.', '#d8d8d8')
TL(12, 511, '> 0.1 okt.', 'white', bbox=dict(fc=SKY, ec='none', pad=1.2))
TL(6, 527, 'Widzialność', ORG)
TL(6, 543, 'Chmury:')
TL(11, 556, 'wysokie', 'white', bbox=dict(fc=SKY, ec='none', pad=1.2))
TL(10, 570, 'średnie', '#999999'); TL(10, 582, 'niskie', '#444444')
TL(10, 594, 'bardzo niskie', '#222222')
TL(6, 605, 'Mgła', '#ffb400')
T(6, 622, 'Czas uniwersalny (UTC)', ha='left', size=8.8)
T(5, 648, '* powyżej poziomu morza', ha='left', size=6.6, fontweight='bold')

L('k', [(68, 16), (133, 16), (157, 44)])
L(BR, [(102, 43), (120, 43), (148, 80)])
L(RD, [(92, 76), (117, 76)]); L(RD, [(130, 76), (136, 78), (163, 108)])
L(BL, [(70, 99), (135, 99)])
L(SL, [(94, 120), (120, 120), (134, 113)])
L(RD, [(102, 137), (138, 137), (146, 147)])
L(RHC, [(106, 151), (112, 151)]); L(RHC, [(130, 151), (140, 160)])
L('k', [(94, 166), (112, 166)]); L('k', [(129, 166), (136, 173)])
L(GR, [(72, 179), (138, 179)]); L(GR, [(80, 190), (138, 190)])
L(BL, [(70, 202), (112, 202)]); L(BL, [(130, 202), (160, 172)])
L(BL, [(81, 212), (132, 212), (160, 180)])
L(RD, [(97, 225), (143, 225), (146, 220)])
L('k', [(52, 264), (135, 264)])
L(RD, [(111, 334), (118, 334)]); L(RD, [(130, 334), (139, 316)])
L(RD, [(105, 348), (130, 348), (145, 340)])
L(NAVY, [(92, 367), (135, 367)])
L(NAVY, [(86, 410), (140, 410)])
L(BR, [(100, 431), (130, 431), (170, 443)])
L('k', [(57, 468), (140, 468), (190, 456)])
L('#555555', [(56, 480), (142, 480)])
L('#a0a0a0', [(56, 490), (130, 490), (140, 505)])
L('#d8d8d8', [(56, 500), (128, 500), (138, 507)])
L(SKY, [(56, 510), (136, 510)]); L(SKY, [(56, 512), (136, 512)])
L(ORG, [(67, 527), (122, 527), (172, 465)])
L(SKY, [(54, 555), (186, 555)]); L(SKY, [(54, 557), (186, 557)])
L('#999999', [(50, 571), (192, 571)])
L('#222222', [(40, 581), (120, 581)]); L('#222222', [(133, 581), (140, 581)])
L('#222222', [(74, 594), (147, 594)])
L('#ffb400', [(28, 605), (215, 605), (220, 595)])
L('k', [(140, 623), (148, 623), (157, 609)])

fig.savefig('out.png', dpi=100)
